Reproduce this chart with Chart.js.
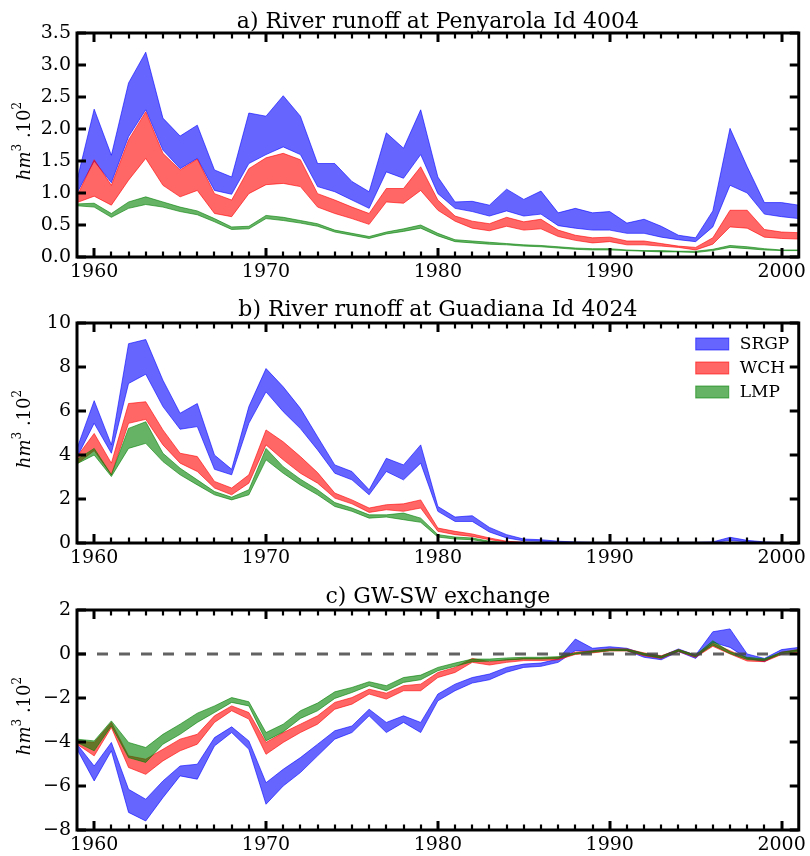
<!DOCTYPE html>
<html>
<head>
<meta charset="utf-8">
<script src="https://cdn.jsdelivr.net/npm/chart.js@4.4.0/dist/chart.umd.min.js"></script>
<style>
  html, body { margin: 0; padding: 0; background: #fff; }
  #wrap { position: relative; width: 810px; height: 856px; }
  #wrap canvas { position: absolute; left: 0; }
</style>
</head>
<body>
<div id="wrap">
  <canvas id="chartA" width="810" height="285" style="top:0"></canvas>
  <canvas id="chartB" width="810" height="285" style="top:285px"></canvas>
  <canvas id="chartC" width="810" height="286" style="top:570px"></canvas>
</div>
<script>
// Yıllar
const years = [1959, 1960, 1961, 1962, 1963, 1964, 1965, 1966, 1967, 1968,
    1969, 1970, 1971, 1972, 1973, 1974, 1975, 1976, 1977, 1978,
    1979, 1980, 1981, 1982, 1983, 1984, 1985, 1986, 1987, 1988,
    1989, 1990, 1991, 1992, 1993, 1994, 1995, 1996, 1997, 1998,
    1999, 2000, 2001];

const modelNames = ['SRGP', 'WCH', 'LMP'];

// a) Penyarola Id 4004
const aSrgpHi = [1.2, 2.31, 1.59, 2.72, 3.2, 2.17, 1.89, 2.06, 1.36, 1.25,
    2.25, 2.2, 2.52, 2.2, 1.46, 1.46, 1.18, 1.02, 1.94, 1.7,
    2.3, 1.25, 0.86, 0.87, 0.81, 1.06, 0.9, 1.03, 0.69, 0.76,
    0.69, 0.71, 0.53, 0.59, 0.48, 0.34, 0.3, 0.72, 2.01, 1.41,
    0.85, 0.85, 0.81];
const aSrgpLo = [1.0, 1.5, 1.16, 1.88, 2.3, 1.67, 1.38, 1.54, 1.04, 0.98,
    1.46, 1.6, 1.72, 1.6, 1.1, 1.02, 0.89, 0.76, 1.33, 1.23,
    1.6, 0.99, 0.76, 0.71, 0.64, 0.72, 0.64, 0.67, 0.49, 0.45,
    0.42, 0.42, 0.37, 0.37, 0.31, 0.27, 0.24, 0.47, 1.12, 1.0,
    0.67, 0.63, 0.6];
const aWchHi = [0.95, 1.52, 1.12, 1.83, 2.27, 1.62, 1.36, 1.53, 0.99, 0.89,
    1.38, 1.55, 1.62, 1.52, 0.99, 0.89, 0.78, 0.68, 1.07, 1.07,
    1.41, 0.89, 0.64, 0.56, 0.52, 0.62, 0.55, 0.59, 0.42, 0.34,
    0.3, 0.31, 0.25, 0.25, 0.21, 0.17, 0.15, 0.3, 0.73, 0.73,
    0.43, 0.39, 0.38];
const aWchLo = [0.85, 0.95, 0.81, 1.2, 1.54, 1.12, 0.94, 1.04, 0.68, 0.63,
    0.99, 1.13, 1.15, 1.1, 0.78, 0.68, 0.6, 0.51, 0.86, 0.84,
    1.04, 0.73, 0.56, 0.45, 0.41, 0.48, 0.42, 0.44, 0.32, 0.26,
    0.22, 0.24, 0.19, 0.19, 0.17, 0.15, 0.11, 0.2, 0.47, 0.45,
    0.31, 0.29, 0.28];
const aLmpHi = [0.83, 0.84, 0.68, 0.86, 0.94, 0.86, 0.78, 0.72, 0.6, 0.47,
    0.48, 0.65, 0.62, 0.57, 0.52, 0.42, 0.37, 0.32, 0.39, 0.44,
    0.5, 0.37, 0.27, 0.25, 0.23, 0.21, 0.19, 0.18, 0.16, 0.14,
    0.13, 0.13, 0.11, 0.1, 0.1, 0.09, 0.09, 0.12, 0.18, 0.16,
    0.13, 0.11, 0.11];
const aLmpLo = [0.8, 0.78, 0.62, 0.76, 0.82, 0.78, 0.71, 0.66, 0.55, 0.43,
    0.44, 0.6, 0.57, 0.53, 0.48, 0.39, 0.34, 0.29, 0.36, 0.4,
    0.45, 0.33, 0.24, 0.22, 0.2, 0.19, 0.17, 0.16, 0.14, 0.12,
    0.11, 0.11, 0.1, 0.09, 0.08, 0.08, 0.07, 0.1, 0.15, 0.13,
    0.11, 0.1, 0.1];

// b) Guadiana Id 4024
const bSrgpHi = [4.3, 6.47, 4.46, 9.06, 9.25, 7.4, 5.9, 6.34, 4.0, 3.35,
    6.2, 7.93, 7.1, 6.12, 4.83, 3.55, 3.25, 2.42, 3.85, 3.55,
    4.46, 1.66, 1.18, 1.24, 0.71, 0.38, 0.18, 0.15, 0.08, 0.05,
    0.03, 0.03, 0.03, 0.03, 0.03, 0.03, 0.03, 0.05, 0.26, 0.12,
    0.05, 0.02, 0.02];
const bSrgpLo = [3.9, 5.44, 4.08, 7.25, 7.67, 6.2, 5.17, 5.29, 3.35, 3.1,
    5.44, 6.87, 5.97, 5.2, 4.23, 3.17, 2.87, 2.19, 3.25, 2.87,
    3.63, 1.44, 0.98, 0.98, 0.5, 0.23, 0.1, 0.08, 0.04, 0.02,
    0.01, 0.01, 0.01, 0.01, 0.01, 0.01, 0.01, 0.02, 0.12, 0.05,
    0.02, 0.0, 0.0];
const bWchHi = [3.93, 4.98, 3.63, 6.34, 6.42, 5.14, 4.08, 3.93, 2.8, 2.5,
    3.1, 5.14, 4.6, 3.93, 3.2, 2.27, 1.96, 1.59, 1.74, 1.78,
    1.96, 0.68, 0.53, 0.41, 0.23, 0.08, 0.03, 0.01, 0.01, 0.0,
    0.0, 0.0, 0.0, 0.0, 0.0, 0.0, 0.0, 0.0, 0.01, 0.0,
    0.0, 0.0, 0.0];
const bWchLo = [3.6, 4.2, 3.1, 5.44, 5.62, 4.46, 3.63, 3.25, 2.5, 2.19,
    2.72, 4.46, 3.78, 3.17, 2.72, 2.04, 1.78, 1.39, 1.51, 1.44,
    1.59, 0.53, 0.38, 0.3, 0.15, 0.05, 0.02, 0.0, 0.0, 0.0,
    0.0, 0.0, 0.0, 0.0, 0.0, 0.0, 0.0, 0.0, 0.0, 0.0,
    0.0, 0.0, 0.0];
const bLmpHi = [3.8, 4.3, 3.1, 5.21, 5.51, 4.08, 3.4, 2.87, 2.34, 2.08,
    2.42, 4.3, 3.47, 2.9, 2.42, 1.84, 1.59, 1.28, 1.28, 1.36,
    1.13, 0.38, 0.27, 0.23, 0.08, 0.02, 0.0, 0.0, 0.0, 0.0,
    0.0, 0.0, 0.0, 0.0, 0.0, 0.0, 0.0, 0.0, 0.0, 0.0,
    0.0, 0.0, 0.0];
const bLmpLo = [3.6, 4.0, 3.02, 4.3, 4.53, 3.7, 3.1, 2.64, 2.19, 1.96,
    2.19, 3.78, 3.17, 2.64, 2.19, 1.66, 1.44, 1.13, 1.18, 1.06,
    0.94, 0.27, 0.18, 0.15, 0.03, 0.0, 0.0, 0.0, 0.0, 0.0,
    0.0, 0.0, 0.0, 0.0, 0.0, 0.0, 0.0, 0.0, 0.0, 0.0,
    0.0, 0.0, 0.0];

// c) GW-SW exchange
const cSrgpHi = [-4.1, -5.09, -4.02, -6.15, -6.6, -5.77, -5.09, -5.01, -3.8, -3.31,
    -3.95, -5.85, -5.24, -4.71, -4.1, -3.49, -3.27, -2.51, -3.11, -2.81,
    -3.11, -1.82, -1.37, -1.07, -0.91, -0.61, -0.46, -0.41, -0.23, 0.68,
    0.26, 0.33, 0.26, 0.0, -0.1, 0.23, -0.05, 1.01, 1.14, 0.0,
    -0.2, 0.2, 0.3];
const cSrgpLo = [-4.33, -5.77, -4.4, -7.2, -7.59, -6.53, -5.54, -5.69, -4.18, -3.57,
    -4.33, -6.83, -6.0, -5.39, -4.63, -3.87, -3.57, -2.81, -3.57, -3.11,
    -3.57, -2.13, -1.67, -1.32, -1.17, -0.83, -0.61, -0.56, -0.38, 0.15,
    0.11, 0.2, 0.15, -0.15, -0.26, 0.11, -0.2, 0.53, 0.3, -0.2,
    -0.35, 0.08, 0.15];
const cWchHi = [-3.95, -4.02, -3.11, -4.63, -4.78, -4.33, -3.87, -3.65, -2.81, -2.36,
    -2.66, -4.02, -3.57, -3.19, -2.81, -2.2, -1.98, -1.6, -1.78, -1.44,
    -1.37, -0.84, -0.61, -0.2, -0.35, -0.26, -0.2, -0.2, -0.15, 0.08,
    0.15, 0.23, 0.23, 0.05, -0.08, 0.2, -0.05, 0.49, 0.15, -0.2,
    -0.26, 0.08, 0.2];
const cWchLo = [-4.1, -4.63, -3.34, -5.16, -5.47, -4.86, -4.4, -4.1, -3.11, -2.58,
    -2.96, -4.56, -4.02, -3.57, -3.19, -2.51, -2.28, -1.82, -2.05, -1.67,
    -1.67, -1.07, -0.84, -0.38, -0.5, -0.38, -0.3, -0.3, -0.26, -0.02,
    0.05, 0.14, 0.14, -0.08, -0.2, 0.11, -0.15, 0.35, 0.0, -0.32,
    -0.35, -0.02, 0.08];
const cLmpHi = [-3.87, -3.95, -3.04, -4.02, -4.25, -3.65, -3.19, -2.69, -2.36, -1.98,
    -2.17, -3.57, -3.19, -2.58, -2.23, -1.72, -1.52, -1.26, -1.44, -1.07,
    -0.96, -0.61, -0.41, -0.23, -0.23, -0.18, -0.15, -0.15, -0.12, 0.05,
    0.14, 0.22, 0.22, 0.03, -0.1, 0.2, -0.05, 0.6, 0.1, -0.15,
    -0.22, 0.08, 0.2];
const cLmpLo = [-4.02, -4.4, -3.27, -4.71, -4.93, -4.1, -3.65, -3.11, -2.66, -2.2,
    -2.36, -3.95, -3.54, -2.93, -2.58, -2.02, -1.75, -1.44, -1.67, -1.29,
    -1.17, -0.76, -0.56, -0.35, -0.32, -0.27, -0.23, -0.23, -0.2, 0.0,
    0.08, 0.15, 0.15, -0.05, -0.18, 0.13, -0.12, 0.4, 0.02, -0.25,
    -0.3, 0.0, 0.12];

// Renkler (matplotlib b / r / g, alpha 0.6)
const colors = ['rgba(0,0,255,0.6)', 'rgba(255,0,0,0.6)', 'rgba(0,128,0,0.6)'];

Chart.defaults.font.family = "'DejaVu Serif', serif";
Chart.defaults.font.size = 19;
Chart.defaults.color = '#000';

function bandSets(name, hi, lo, color, order) {
    return [{
        label: name,
        data: years.map((yr, i) => ({ x: yr, y: hi[i] })),
        borderColor: color,
        backgroundColor: color,
        borderWidth: 1,
        pointRadius: 0,
        tension: 0,
        fill: '+1',
        order: order
    }, {
        label: name + '_lo',
        data: years.map((yr, i) => ({ x: yr, y: lo[i] })),
        borderColor: color,
        backgroundColor: color,
        borderWidth: 1,
        pointRadius: 0,
        tension: 0,
        fill: false,
        order: order
    }];
}

function drawLine(ctx, x1, y1, x2, y2) {
    ctx.beginPath();
    ctx.moveTo(x1, y1);
    ctx.lineTo(x2, y2);
    ctx.stroke();
}

// Çerçeve, içe dönük tikler, başlıklar, lejant
const decor = {
    id: 'decor',
    afterDraw(chart, args, opts) {
        const ctx = chart.ctx;
        const a = chart.chartArea;
        const xs = chart.scales.x;
        const ys = chart.scales.y;
        ctx.save();
        ctx.setLineDash([]);
        ctx.lineCap = 'butt';

        if (opts.zeroLine) {
            const py = ys.getPixelForValue(0);
            ctx.strokeStyle = 'rgba(70,70,70,0.85)';
            ctx.lineWidth = 3;
            ctx.setLineDash([11, 11]);
            ctx.lineDashOffset = 2;
            drawLine(ctx, a.left, py, a.right, py);
            ctx.setLineDash([]);
            ctx.lineDashOffset = 0;
        }

        ctx.strokeStyle = '#000';
        ctx.lineWidth = 3;
        ctx.strokeRect(a.left, a.top, a.right - a.left, a.bottom - a.top);

        // x tikleri (yıllık küçük, 10 yılda büyük)
        for (let k = 1; k < years.length - 1; k++) {
            const yr = years[k];
            const px = Math.round(xs.getPixelForValue(yr));
            const major = yr % 10 === 0;
            const len = major ? 9 : 5.5;
            ctx.lineWidth = major ? 3 : 2.2;
            drawLine(ctx, px, a.bottom, px, a.bottom - len);
            drawLine(ctx, px, a.top, px, a.top + len);
        }
        // y tikleri
        ys.ticks.forEach(t => {
            const py = Math.round(ys.getPixelForValue(t.value));
            ctx.lineWidth = 3;
            drawLine(ctx, a.left, py, a.left + 9, py);
            drawLine(ctx, a.right, py, a.right - 9, py);
        });

        // Başlık
        ctx.fillStyle = '#000';
        ctx.font = "22px 'DejaVu Serif'";
        ctx.textAlign = 'center';
        ctx.textBaseline = 'alphabetic';
        ctx.fillText(opts.title, (a.left + a.right) / 2, opts.titleY);

        // Y ekseni etiketi: hm^3 .10^2
        const parts = [
            { t: 'hm', f: "italic 18px 'DejaVu Serif'", dy: 0 },
            { t: '3', f: "12px 'DejaVu Serif'", dy: -7 },
            { t: ' .10', f: "18px 'DejaVu Serif'", dy: 0 },
            { t: '2', f: "12px 'DejaVu Serif'", dy: -7 }
        ];
        let total = 0;
        parts.forEach(p => { ctx.font = p.f; p.w = ctx.measureText(p.t).width; total += p.w; });
        ctx.translate(20, (a.top + a.bottom) / 2 - 4);
        ctx.rotate(-Math.PI / 2);
        ctx.textAlign = 'left';
        ctx.textBaseline = 'middle';
        let cx = -total / 2;
        parts.forEach(p => {
            ctx.font = p.f;
            ctx.fillText(p.t, cx, p.dy + 5);
            cx += p.w;
        });
        ctx.setTransform(1, 0, 0, 1, 0, 0);

        // Lejant
        if (opts.legend) {
            ctx.font = "17px 'DejaVu Serif'";
            ctx.textAlign = 'left';
            ctx.textBaseline = 'middle';
            modelNames.forEach((name, i) => {
                const ly = a.top + 21 + i * 24;
                const lx = a.right - 103;
                ctx.fillStyle = colors[i];
                ctx.fillRect(lx, ly - 6, 33, 12);
                ctx.strokeStyle = colors[i];
                ctx.lineWidth = 1;
                ctx.strokeRect(lx, ly - 6, 33, 12);
                ctx.fillStyle = '#000';
                ctx.fillText(name, lx + 44, ly + 1);
            });
        }
        ctx.restore();
    }
};

function makePanel(id, sets, yMin, yMax, yStep, yFmt, padTop, xAxisH, decorOpts) {
    const datasets = [].concat(
        bandSets('SRGP', sets[0], sets[1], colors[0], 3),
        bandSets('WCH', sets[2], sets[3], colors[1], 2),
        bandSets('LMP', sets[4], sets[5], colors[2], 1)
    );
    return new Chart(document.getElementById(id).getContext('2d'), {
        type: 'line',
        data: { datasets: datasets },
        options: {
            responsive: false,
            animation: false,
            layout: { padding: { top: padTop, right: 11, left: 0, bottom: 0 } },
            plugins: {
                legend: { display: false },
                tooltip: { enabled: false },
                decor: decorOpts
            },
            scales: {
                x: {
                    type: 'linear',
                    min: 1959,
                    max: 2001,
                    grid: { display: false, drawTicks: false },
                    border: { display: false },
                    ticks: {
                        stepSize: 10,
                        includeBounds: false,
                        autoSkip: false,
                        maxRotation: 0,
                        padding: 4,
                        callback: v => String(v)
                    },
                    afterFit: s => { s.height = xAxisH; }
                },
                y: {
                    min: yMin,
                    max: yMax,
                    grid: { display: false, drawTicks: false },
                    border: { display: false },
                    ticks: {
                        stepSize: yStep,
                        padding: 6,
                        callback: yFmt
                    },
                    afterFit: s => { s.width = 77; }
                }
            }
        },
        plugins: [decor]
    });
}

const minus = v => (v < 0 ? '\u2212' + Math.abs(v) : String(v));

makePanel('chartA', [aSrgpHi, aSrgpLo, aWchHi, aWchLo, aLmpHi, aLmpLo],
    0, 3.5, 0.5, v => v.toFixed(1), 33, 28,
    { title: 'a) River runoff at Penyarola Id 4004', titleY: 28 });
makePanel('chartB', [bSrgpHi, bSrgpLo, bWchHi, bWchLo, bLmpHi, bLmpLo],
    0, 10, 2, minus, 38, 27,
    { title: 'b) River runoff at Guadiana Id 4024', titleY: 31, legend: true });
makePanel('chartC', [cSrgpHi, cSrgpLo, cWchHi, cWchLo, cLmpHi, cLmpLo],
    -8, 2, 2, minus, 40, 26,
    { title: 'c) GW-SW exchange', titleY: 33, zeroLine: true });
</script>
</body>
</html>
